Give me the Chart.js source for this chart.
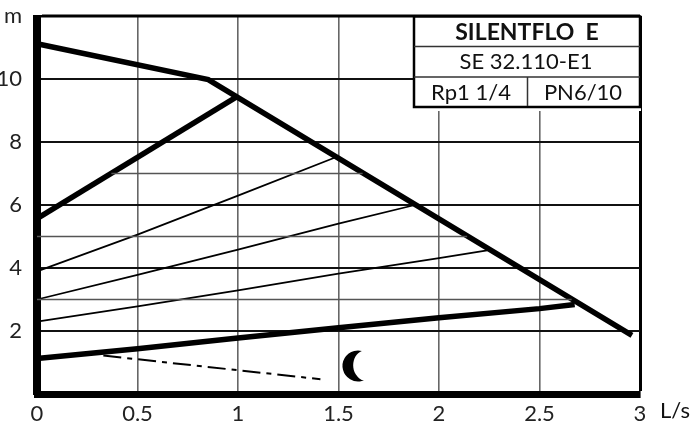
<!DOCTYPE html>
<html>
<head>
<meta charset="utf-8">
<style>
  html, body { margin: 0; padding: 0; background: #fff; }
  canvas { display: block; }
</style>
<script src="https://cdn.jsdelivr.net/npm/chart.js@4"></script>
</head>
<body>
<canvas id="pumpChart" width="691" height="423"></canvas>
<script>
// values: flow in L/s, head in m
const limitFlow = [0, 0.852, 2.96];
const limitHead = [11.12, 9.98, 1.86];
const topSpeedFlow = [0, 0.995];
const topSpeedHead = [5.57, 9.44];
const speedAFlow = [0, 0.5, 1, 1.48];
const speedAHead = [3.89, 5.06, 6.3, 7.5];
const speedBFlow = [0, 0.5, 1, 1.5, 1.88];
const speedBHead = [3.0, 3.78, 4.58, 5.41, 6.0];
const speedCFlow = [0, 0.5, 1, 1.5, 2, 2.24];
const speedCHead = [2.3, 2.78, 3.29, 3.82, 4.31, 4.56];
const lowSpeedFlow = [0, 0.5, 1, 1.5, 2, 2.5, 2.675];
const lowSpeedHead = [1.13, 1.44, 1.78, 2.1, 2.42, 2.71, 2.84];
const nightFlow = [0.33, 1.41];
const nightHead = [1.22, 0.47];

// the odd head lines stop where they meet the curves
const minorHeads = [7, 5, 3];
const minorStart = [0.37, 0, 0];
const minorEnd = [1.62, 2.14, 2.66];

const frameFlow = [0, 3];
const frameHead = [12, 12];

const flowTicks = [0, 0.5, 1, 1.5, 2, 2.5, 3];
const headLabels = { 2: '2', 4: '4', 6: '6', 8: '8', 10: '10', 12: 'm' };

const FONT = 'Lato, "Open Sans", sans-serif';

const toPoints = (xs, ys) => xs.map((x, i) => ({ x: x, y: ys[i] }));

const curve = (xs, ys, width, extra) => Object.assign({
    data: toPoints(xs, ys),
    borderColor: '#000',
    borderWidth: width,
    pointRadius: 0,
    tension: 0,
    clip: false
}, extra);

const minorSets = minorHeads.map((h, i) => curve([minorStart[i], minorEnd[i]], [h, h], 1.5, { borderColor: '#555' }));

// title block, moon and the flow unit
const extras = {
    id: 'extras',
    afterDatasetsDraw(chart) {
        const c = chart.ctx;
        c.save();

        // box covers the grid, a bit below its own frame too
        c.fillStyle = '#fff';
        c.fillRect(414, 16, 227, 95);

        // axis borders overshoot the corners, trim them
        c.fillRect(30, 8, 12, 7);
        c.fillRect(642, 388, 6, 12);

        c.strokeStyle = '#000';
        c.lineWidth = 2.5;
        c.strokeRect(414, 16.5, 226, 90.5);
        c.lineWidth = 1.5;
        c.strokeStyle = '#333';
        c.beginPath();
        c.moveTo(414, 46.5); c.lineTo(640, 46.5);
        c.moveTo(414, 77); c.lineTo(640, 77);
        c.moveTo(527.5, 77); c.lineTo(527.5, 106);
        c.stroke();

        c.fillStyle = '#111';
        c.textBaseline = 'alphabetic';
        c.textAlign = 'center';
        c.font = 'bold 23px ' + FONT;
        c.fillText('SILENTFLO  E', 527, 40);
        c.font = '22px ' + FONT;
        c.fillText('SE 32.110-E1', 526, 69);
        c.fillText('Rp1 1/4', 471, 100);
        c.fillText('PN6/10', 583, 100);
        c.fillText('L/s', 675, 418);

        // moon
        c.fillStyle = '#000';
        c.beginPath();
        c.arc(358, 366, 15.5, Math.PI * 0.42, Math.PI * 1.58);
        c.bezierCurveTo(351, 355, 349, 375, 364, 381);
        c.closePath();
        c.fill();
        c.restore();
    }
};

new Chart(document.getElementById('pumpChart'), {
    type: 'line',
    data: {
        datasets: minorSets.concat([
            curve(frameFlow, frameHead, 3),
            curve(speedAFlow, speedAHead, 1.8),
            curve(speedBFlow, speedBHead, 1.8),
            curve(speedCFlow, speedCHead, 1.8),
            curve(nightFlow, nightHead, 2, { borderDash: [18, 6, 5, 6] }),
            curve(lowSpeedFlow, lowSpeedHead, 5.5),
            curve(topSpeedFlow, topSpeedHead, 5.5),
            curve(limitFlow, limitHead, 5.5)
        ])
    },
    options: {
        responsive: false,
        animation: false,
        layout: { padding: { top: 16, right: 51, left: 0, bottom: 0 } },
        plugins: { legend: { display: false }, tooltip: { enabled: false } },
        scales: {
            x: {
                type: 'linear',
                min: 0,
                max: 3,
                afterFit: (s) => { s.height = 29; s.paddingLeft = 0; s.paddingRight = 0; },
                afterBuildTicks: (s) => { s.ticks = flowTicks.map((v) => ({ value: v })); },
                border: { color: '#000', width: 7 },
                grid: {
                    drawTicks: false,
                    color: (ctx) => ctx.tick.value === 3 ? '#000' : '#666',
                    lineWidth: (ctx) => ctx.tick.value === 3 ? 3 : 1.6
                },
                ticks: {
                    color: '#222',
                    padding: 7,
                    maxRotation: 0,
                    autoSkip: false,
                    font: { family: FONT, size: 22 },
                    callback: (v) => String(v)
                }
            },
            y: {
                type: 'linear',
                min: 0,
                max: 12,
                afterFit: (s) => { s.width = 37; s.paddingTop = 0; s.paddingBottom = 0; },
                afterBuildTicks: (s) => { s.ticks = [2, 4, 6, 8, 10, 12].map((v) => ({ value: v })); },
                border: { color: '#000', width: 8 },
                grid: {
                    drawTicks: false,
                    color: '#111',
                    lineWidth: 2
                },
                ticks: {
                    color: '#222',
                    padding: 15,
                    autoSkip: false,
                    font: { family: FONT, size: 22 },
                    callback: (v) => headLabels[v] || ''
                }
            }
        }
    },
    plugins: [extras]
});
</script>
</body>
</html>
